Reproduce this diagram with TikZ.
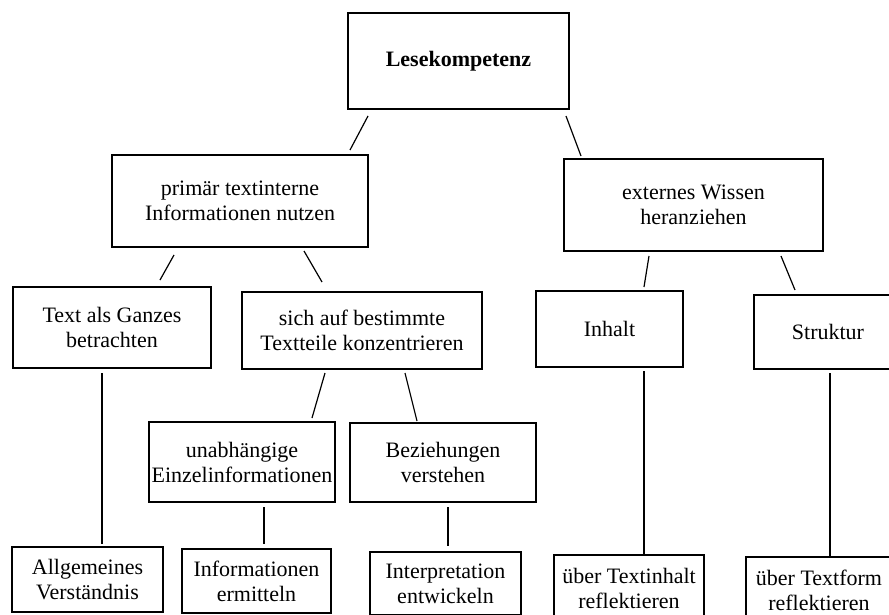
\documentclass[tikz,border=0pt]{standalone}
\usepackage{fontspec}
\setmainfont{Liberation Serif}
\begin{document}
\begin{tikzpicture}[x=1pt,y=-1pt,
  bx/.style={draw=black,line width=1.7pt,align=center,inner sep=0pt,
    font=\fontsize{22}{25}\selectfont},
  con/.style={draw=black,line width=1.2pt}]
\useasboundingbox (0,0) rectangle (889,615);
\clip (0,0) rectangle (889,615);
\fill[white] (0,0) rectangle (889,615);
% level 0
\node[bx,minimum width=221pt,minimum height=96pt] (L) at (458.5,61) {\textbf{Lesekompetenz}};
% level 1
\node[bx,minimum width=256pt,minimum height=92pt] (P) at (240,201) {primär textinterne\\Informationen nutzen};
\node[bx,minimum width=259pt,minimum height=92pt] (E) at (693.5,205) {externes Wissen\\heranziehen};
% level 2
\node[bx,minimum width=198pt,minimum height=81pt] (T) at (112,327.5) {Text als Ganzes\\betrachten};
\node[bx,minimum width=240pt,minimum height=77pt] (S) at (362,330.5) {sich auf bestimmte\\Textteile konzentrieren};
\node[bx,minimum width=147pt,minimum height=76pt] (I) at (609.5,329) {Inhalt};
\node[bx,minimum width=148pt,minimum height=74pt] (St) at (828,332) {Struktur};
% level 3
\node[bx,minimum width=186pt,minimum height=80pt] (U) at (242,462) {unabhängige\\Einzelinformationen};
\node[bx,minimum width=186pt,minimum height=79pt] (B) at (443,462.5) {Beziehungen\\verstehen};
% level 4
\node[bx,minimum width=151pt,minimum height=65pt] (A) at (87.5,579.5) {Allgemeines\\Verständnis};
\node[bx,minimum width=149pt,minimum height=64pt] (Inf) at (256.5,581) {Informationen\\ermitteln};
\node[bx,minimum width=151pt,minimum height=63pt] (Int) at (445.5,583.5) {Interpretation\\entwickeln};
\node[bx,minimum width=150pt,minimum height=67pt] (Ti) at (629,588.5) {über Textinhalt\\reflektieren};
\node[bx,minimum width=146pt,minimum height=67pt] (Tf) at (819,590.5) {über Textform\\reflektieren};
% connector end points
\coordinate (lp1) at (368,116); \coordinate (lp2) at (350,150);
\coordinate (le1) at (566,116); \coordinate (le2) at (581,156);
\coordinate (pt1) at (174,255); \coordinate (pt2) at (160,280);
\coordinate (ps1) at (304,251); \coordinate (ps2) at (322,282);
\coordinate (ei1) at (649,256); \coordinate (ei2) at (644,287);
\coordinate (es1) at (781,256); \coordinate (es2) at (795,290);
\coordinate (su1) at (325,373); \coordinate (su2) at (312,418);
\coordinate (sb1) at (405,373); \coordinate (sb2) at (417,421);
\coordinate (ta1) at (102,373); \coordinate (ta2) at (102,544);
\coordinate (ui1) at (264,507); \coordinate (ui2) at (264,544);
\coordinate (bi1) at (448,507); \coordinate (bi2) at (448,546);
\coordinate (it1) at (644,371);
\coordinate (st1) at (830,373);
\draw[con] (lp1) -- (lp2);
\draw[con] (le1) -- (le2);
\draw[con] (pt1) -- (pt2);
\draw[con] (ps1) -- (ps2);
\draw[con] (ei1) -- (ei2);
\draw[con] (es1) -- (es2);
\draw[con] (su1) -- (su2);
\draw[con] (sb1) -- (sb2);
\draw[con] (ta1) -- (ta2);
\draw[con] (ui1) -- (ui2);
\draw[con] (bi1) -- (bi2);
\draw[con] (it1) -- (it1 |- Ti.north);
\draw[con] (st1) -- (st1 |- Tf.north);
\end{tikzpicture}
\end{document}
